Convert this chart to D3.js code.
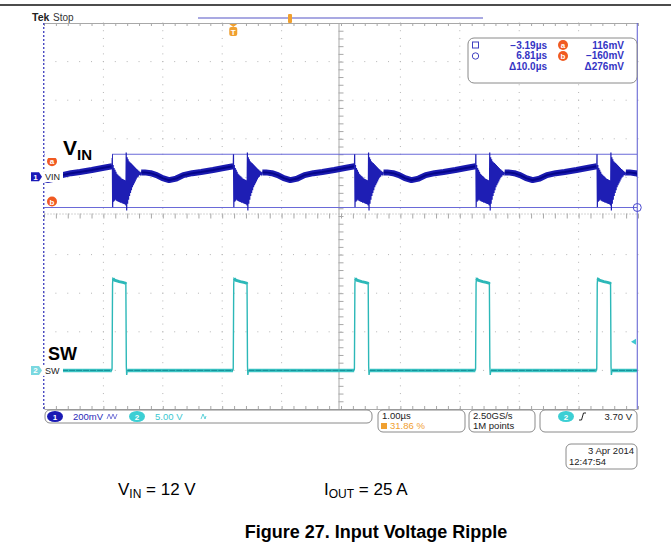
<!DOCTYPE html>
<html>
<head>
<meta charset="utf-8">
<script src="https://cdn.jsdelivr.net/npm/d3@7"></script>
<style>
body{margin:0;background:#fff;}
svg{display:block;font-family:"Liberation Sans",Arial,sans-serif;}
</style>
</head>
<body>
<svg id="chart" width="671" height="558"></svg>
<script>
// screen time window (us), trigger at 0, cursors a/b at the edges
var timeRange = [-3.186, 6.814];
// SW rising edges (us)
var swEdges = [-4.08, -2.04, 0, 2.04, 4.08, 6.12];

// VIN ringing after each edge : offset (us) / mV
var ringT  = [0, .004, .010, .018, .026, .034, .042, .050, .058, .066, .074, .082, .090, .098, .106, .114, .122, .130, .138, .146, .154, .162, .170, .178, .186, .194, .202, .210, .218, .226, .232,
              .238, .246, .254, .262, .270, .278, .286, .294, .302, .310, .318, .326, .334, .342, .350, .358, .366, .374, .382, .390, .398, .406, .414, .422, .430, .440, .450, .460, .470, .480, .490];
var ringMv = [50, 116, -158, 60, -130, 45, -125, 35, -120, 25, -125, 15, -128, 10, -130, 5, -132, 0, -135, -5, -135, -10, -138, -12, -140, -15, -142, -18, -145, -20, -150,
              125, -175, 100, -140, 90, -120, 80, -100, 75, -85, 70, -70, 65, -55, 60, -45, 55, -35, 50, -25, 45, -15, 40, -5, 35, 0, 30, 8, 25, 12, 22];
// VIN slow ripple between bursts : offset (us) / mV
var slowT  = [.49, .55, .65, .75, .85, .96, 1.08, 1.2, 1.35, 1.5, 1.7, 1.9, 2.04];
var slowMv = [22, 22, 18, 8, -8, -18, -10, 8, 18, 24, 34, 46, 54];

// SW pulse : offset (us) / V
var swT = [-.004, 0, .008, .014, .04, .08, .12, .18, .225, .232, .240, .246, .256];
var swV = [0, .3, 11.2, 11.9, 11.7, 11.6, 11.5, 11.4, 11.3, 11.2, .5, -.6, 0];

var cursorMv = [116, -160];
var trigLevelV = 3.70;
var ch1Pos = 1.02, ch2Pos = -4;   // divisions from centre
var ch1Scale = 200, ch2Scale = 5; // mV/div, V/div

var svg = d3.select("#chart");

var x = d3.scaleLinear().domain(timeRange).range([44, 638]);
var divX = d3.scaleLinear().domain([0, 10]).range([44, 638]);
var divY = d3.scaleLinear().domain([-5, 5]).range([409, 23]);
var y1 = d3.scaleLinear().domain([(-5 - ch1Pos) * ch1Scale, (5 - ch1Pos) * ch1Scale]).range([409, 23]);
var y2 = d3.scaleLinear().domain([(-5 - ch2Pos) * ch2Scale, (5 - ch2Pos) * ch2Scale]).range([409, 23]);

// page rule
svg.append("line").attr("x1", 0).attr("x2", 671).attr("y1", 5).attr("y2", 5)
   .attr("stroke", "#111").attr("stroke-width", 1.6);

// graticule dots
var grid = svg.append("g").attr("fill", "#b5b5b5");
var minors = d3.range(0, 50.01, 1).map(function(d){ return d / 5; });
[1,2,3,4,6,7,8,9].forEach(function(i){
  grid.selectAll(null).data(minors).enter().append("rect")
      .attr("x", divX(i) - .5).attr("y", function(d){ return divY(d - 5) - .5; })
      .attr("width", 1).attr("height", 1);
  grid.selectAll(null).data(minors).enter().append("rect")
      .attr("x", function(d){ return divX(d) - .5; }).attr("y", divY(i - 5) - .5)
      .attr("width", 1).attr("height", 1);
});

// centre lines + border ticks
var ax = svg.append("g").attr("class", "axes");
var minorX = d3.range(0, 50.01, 1).map(function(d){ return d / 5; });
var minorY = d3.range(0, 50.01, 1).map(function(d){ return d / 5 - 5; });
ax.append("g").attr("transform", "translate(0,213.5)")
  .call(d3.axisBottom(divX).tickValues(minorX).tickSize(5).tickSizeOuter(0).tickFormat(""));
ax.append("g").attr("transform", "translate(338.5,0)")
  .call(d3.axisRight(divY).tickValues(minorY).tickSize(5).tickSizeOuter(0).tickFormat(""));
ax.append("g").attr("transform", "translate(0,23)")
  .call(d3.axisBottom(divX).tickValues(minorX).tickSize(3).tickSizeOuter(0).tickFormat(""));
ax.append("g").attr("transform", "translate(0,409)")
  .call(d3.axisTop(divX).tickValues(minorX).tickSize(3).tickSizeOuter(0).tickFormat(""));
ax.selectAll(".domain").attr("stroke", "#a8a8a8");
ax.selectAll(".tick line").attr("stroke", "#a8a8a8");
ax.selectAll("g").filter(function(d, i){ return i < 2; }).select(".domain").attr("stroke-dasharray", "1,2");

// vertical cursors a / b on the screen edges
svg.append("line").attr("x1", x(-3.19)).attr("x2", x(-3.19)).attr("y1", 23).attr("y2", 409)
   .attr("stroke", "#2a2ab8").attr("stroke-width", 1.2).attr("stroke-dasharray", "2,2");
svg.append("line").attr("x1", x(6.81) - .5).attr("x2", x(6.81) - .5).attr("y1", 23).attr("y2", 409)
   .attr("stroke", "#5a5ad0").attr("stroke-width", 1);

// horizontal cursors
svg.selectAll(".hcur").data(cursorMv).enter().append("line").attr("class", "hcur")
   .attr("x1", 44).attr("x2", 637).attr("y1", function(d){ return y1(d); }).attr("y2", function(d){ return y1(d); })
   .attr("stroke", "#6a6ad8").attr("stroke-width", 1.2);

// traces
var clip = svg.append("clipPath").attr("id", "scr");
clip.append("rect").attr("x", 44).attr("y", 23).attr("width", 593).attr("height", 386);
var tr = svg.append("g").attr("clip-path", "url(#scr)");
var line = d3.line();

swEdges.forEach(function(e, k){
  // slow ripple band
  var slow = slowT.map(function(t, i){ return [x(e + t), y1(slowMv[i])]; });
  tr.append("path").attr("d", line(slow)).attr("fill", "none")
    .attr("stroke", "#1a1ab0").attr("stroke-width", 6).attr("stroke-linejoin", "round");
  tr.append("path").attr("d", line(slow)).attr("fill", "none")
    .attr("stroke", "#05058a").attr("stroke-width", 2);
  // ringing burst
  var ring = ringT.map(function(t, i){ return [x(e + t), y1(ringMv[i])]; });
  tr.append("path").attr("d", line(ring)).attr("fill", "none")
    .attr("stroke", "#1e1eb4").attr("stroke-width", 1.2);

  // SW pulse
  var p = swT.map(function(t, i){ return [x(e + t), y2(swV[i])]; });
  tr.append("path").attr("d", line(p)).attr("fill", "none")
    .attr("stroke", "#2cb8b8").attr("stroke-width", 1.4);
  tr.append("path").attr("d", line(p.slice(3, 10))).attr("fill", "none")
    .attr("stroke", "#2cb8b8").attr("stroke-width", 3);
  // SW low level until the next edge
  var t0 = e + swT[swT.length - 1];
  var t1 = (k < swEdges.length - 1 ? swEdges[k + 1] : timeRange[1] + 1) + swT[0];
  var low = [[x(t0), y2(0)], [x(t1), y2(0)]];
  tr.append("path").attr("d", line(low)).attr("stroke", "#3cc4c4").attr("stroke-width", 3.5);
  tr.append("path").attr("d", line(low)).attr("stroke", "#128f96").attr("stroke-width", 1)
    .attr("stroke-dasharray", "6,1");
});

// cursor b crossing mark
svg.append("circle").attr("cx", x(6.81) - .5).attr("cy", y1(cursorMv[1])).attr("r", 4)
   .attr("fill", "none").attr("stroke", "#4a4ad0");

// trigger level marker (right)
svg.append("path").attr("d", "M631," + y2(trigLevelV) + "l5,-3v6z").attr("fill", "#40c8d0");

// top record bar + trigger markers
svg.append("line").attr("x1", 198).attr("x2", 483).attr("y1", 18).attr("y2", 18)
   .attr("stroke", "#8c8cd8").attr("stroke-width", 1.5);
svg.append("rect").attr("x", 288).attr("y", 14).attr("width", 4).attr("height", 9).attr("rx", 1).attr("fill", "#f0a030");
svg.append("path").attr("d", "M" + (x(0) - 4) + ",24h8l-4,3z").attr("fill", "#f0a030");
svg.append("rect").attr("x", x(0) - 4).attr("y", 27).attr("width", 8).attr("height", 9).attr("rx", 2).attr("fill", "#f0a030");
svg.append("text").attr("x", x(0)).attr("y", 34.5).attr("text-anchor", "middle")
   .attr("font-size", 8).attr("font-weight", "bold").attr("fill", "#fff").text("T");

svg.append("text").attr("x", 32).attr("y", 21).attr("font-size", 10.5).attr("font-weight", "bold")
   .attr("fill", "#222").text("Tek");
svg.append("text").attr("x", 53).attr("y", 21).attr("font-size", 10).attr("fill", "#333").text("Stop");

// cursor readout box
var cb = svg.append("g");
cb.append("rect").attr("x", 468).attr("y", 38).attr("width", 169).attr("height", 45).attr("rx", 6)
  .attr("fill", "#fff").attr("stroke", "#8a8a8a");
cb.append("rect").attr("x", 472.5).attr("y", 42).attr("width", 6).attr("height", 6)
  .attr("fill", "none").attr("stroke", "#4040c0");
cb.append("circle").attr("cx", 475.5).attr("cy", 56).attr("r", 3.2).attr("fill", "none").attr("stroke", "#4040c0");
var readT = ["\u22123.19\u00b5s", "6.81\u00b5s", "\u039410.0\u00b5s"];
var readV = ["116mV", "\u2212160mV", "\u0394276mV"];
cb.selectAll(".rt").data(readT).enter().append("text").attr("class", "rt")
  .attr("x", 547).attr("y", function(d, i){ return 48.5 + i * 10.5; }).attr("text-anchor", "end")
  .attr("font-size", 10).attr("font-weight", "bold").attr("fill", "#3434c4").text(function(d){ return d; });
cb.selectAll(".rv").data(readV).enter().append("text").attr("class", "rv")
  .attr("x", 624).attr("y", function(d, i){ return 48.5 + i * 10.5; }).attr("text-anchor", "end")
  .attr("font-size", 10).attr("font-weight", "bold").attr("fill", "#3434c4").text(function(d){ return d; });

function badge(g, cx, cy, r, fill, letter, col){
  g.append("circle").attr("cx", cx).attr("cy", cy).attr("r", r).attr("fill", fill);
  g.append("text").attr("x", cx).attr("y", cy + 3).attr("text-anchor", "middle")
   .attr("font-size", 8).attr("font-weight", "bold").attr("fill", col).text(letter);
}
badge(cb, 563, 45, 5, "#f05a22", "a", "#fff");
badge(cb, 563, 56, 5, "#f05a22", "b", "#fff");

// left markers
badge(svg, 52, y1(cursorMv[0]) + 7, 5, "#f05a22", "a", "#fff");
badge(svg, 52, y1(cursorMv[1]) - 6, 5, "#f05a22", "b", "#fff");

function chMarker(yy, fill, num, numCol, label){
  svg.append("rect").attr("x", 43).attr("y", yy - 5.5).attr("width", 20).attr("height", 11).attr("fill", "#fff");
  svg.append("path").attr("d", "M31," + (yy - 4.5) + "h8l3,4.5l-3,4.5h-8z").attr("fill", fill);
  svg.append("text").attr("x", 35.5).attr("y", yy + 3).attr("text-anchor", "middle")
     .attr("font-size", 8).attr("font-weight", "bold").attr("fill", numCol).text(num);
  svg.append("text").attr("x", 45).attr("y", yy + 3.5).attr("font-size", 9).attr("fill", "#222").text(label);
}
chMarker(y1(0), "#1a1ab8", "1", "#fff", "VIN");
chMarker(y2(0), "#7ad8e0", "2", "#fff", "SW");

// annotations
svg.append("rect").attr("x", 45).attr("y", 135).attr("width", 67).attr("height", 23).attr("fill", "#fff");
var vin = svg.append("text").attr("x", 63).attr("y", 155).attr("font-weight", "bold").attr("fill", "#000");
vin.append("tspan").attr("font-size", 21).text("V");
vin.append("tspan").attr("font-size", 15).attr("dy", 5).text("IN");
svg.append("text").attr("x", 48).attr("y", 360).attr("font-size", 18).attr("font-weight", "bold")
   .attr("fill", "#000").text("SW");

// status bar
var sb = svg.append("g").attr("font-size", 9.5);
function box(x0, y0, w, h){
  sb.append("rect").attr("x", x0).attr("y", y0).attr("width", w).attr("height", h).attr("rx", 5)
    .attr("fill", "#fff").attr("stroke", "#8a8a8a");
}
box(45, 410, 327, 13);
box(378, 410, 87, 22);
box(469, 410, 66, 22);
box(540, 410, 97, 22);
sb.append("ellipse").attr("cx", 55).attr("cy", 416.5).attr("rx", 8).attr("ry", 5.5).attr("fill", "#1a1ab4");
sb.append("text").attr("x", 55).attr("y", 420).attr("text-anchor", "middle").attr("font-size", 8)
  .attr("font-weight", "bold").attr("fill", "#fff").text("1");
sb.append("text").attr("x", 73).attr("y", 420).attr("fill", "#2a2ab8").text("200mV");
sb.append("path").attr("d", "M107,419l2,-5l2,5l2,-5l2,5l2,-5").attr("fill", "none").attr("stroke", "#5a5ad0").attr("stroke-width", .8);
sb.append("ellipse").attr("cx", 137).attr("cy", 416.5).attr("rx", 8).attr("ry", 5.5).attr("fill", "#3ccfd4");
sb.append("text").attr("x", 137).attr("y", 420).attr("text-anchor", "middle").attr("font-size", 8)
  .attr("font-weight", "bold").attr("fill", "#fff").text("2");
sb.append("text").attr("x", 155).attr("y", 420).attr("fill", "#3cc8d0").text("5.00 V");
sb.append("path").attr("d", "M201,419l2,-5l2,5l1,-3").attr("fill", "none").attr("stroke", "#3cc8d0").attr("stroke-width", .8);

sb.append("text").attr("x", 382).attr("y", 419).attr("fill", "#222").text("1.00\u00b5s");
sb.append("rect").attr("x", 381).attr("y", 423).attr("width", 6).attr("height", 6).attr("fill", "#f0a030");
sb.append("text").attr("x", 390).attr("y", 429).attr("fill", "#f0a030").text("31.86 %");
sb.append("text").attr("x", 473).attr("y", 419).attr("fill", "#222").text("2.50GS/s");
sb.append("text").attr("x", 473).attr("y", 429).attr("fill", "#222").text("1M points");
sb.append("ellipse").attr("cx", 566).attr("cy", 416.5).attr("rx", 8).attr("ry", 5.5).attr("fill", "#3ccfd4");
sb.append("text").attr("x", 566).attr("y", 420).attr("text-anchor", "middle").attr("font-size", 8)
  .attr("font-weight", "bold").attr("fill", "#fff").text("2");
sb.append("path").attr("d", "M579,420h2.5l2,-7h2.5").attr("fill", "none").attr("stroke", "#222").attr("stroke-width", 1);
sb.append("text").attr("x", 632).attr("y", 420).attr("text-anchor", "end").attr("fill", "#222").text("3.70 V");

box(566, 444, 71, 25);
sb.append("text").attr("x", 634).attr("y", 454).attr("text-anchor", "end").attr("fill", "#222").text("3 Apr 2014");
sb.append("text").attr("x", 569).attr("y", 465).attr("fill", "#222").text("12:47:54");

// caption
var c1 = svg.append("text").attr("x", 118).attr("y", 495).attr("font-size", 17).attr("fill", "#000");
c1.append("tspan").text("V");
c1.append("tspan").attr("font-size", 12).attr("dy", 3).text("IN");
c1.append("tspan").attr("dy", -3).text(" = 12 V");
var c2 = svg.append("text").attr("x", 324).attr("y", 495).attr("font-size", 17).attr("fill", "#000");
c2.append("tspan").text("I");
c2.append("tspan").attr("font-size", 12).attr("dy", 3).text("OUT");
c2.append("tspan").attr("dy", -3).text(" = 25 A");
svg.append("text").attr("x", 376).attr("y", 538).attr("text-anchor", "middle").attr("font-size", 18)
   .attr("font-weight", "bold").attr("fill", "#000").text("Figure 27. Input Voltage Ripple");
</script>
</body>
</html>
